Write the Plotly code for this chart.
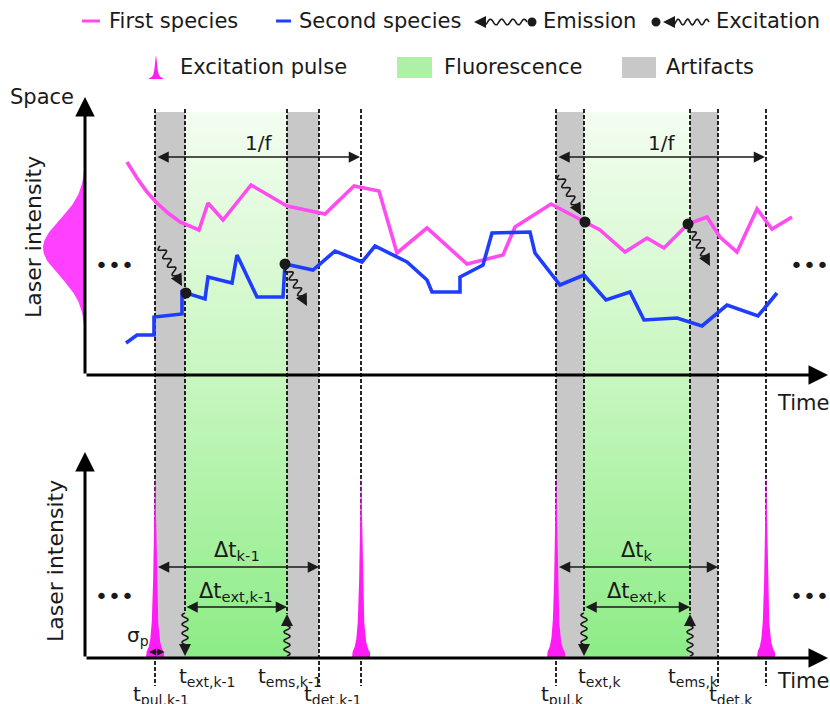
import numpy as np
import plotly.graph_objects as go

W, H = 830, 704
FONT = "DejaVu Sans"
INK = "#1a1a1a"
MAGENTA = "#ff4cf0"
PULSE = "#ff1cf5"
BLUE = "#1f3dff"
GREY = "rgb(200,200,200)"

# ---------------- data ----------------
# trajectories of the two species (time, space; arbitrary units)
first_t = [4.2, 5.2, 6.2, 7.2, 8.3, 9.5, 11.4, 12.3, 13.8, 16.6, 20.2, 24.0, 26.9, 29.4,
           31.2, 34.2, 38.2, 41.8, 43.0, 46.6, 50.0, 51.5, 54.0, 56.2, 57.9, 60.3, 62.2,
           63.5, 65.2, 67.2, 68.7, 70.7]
first_y = [21.3, 19.7, 18.3, 17.2, 16.2, 15.3, 14.5, 17.2, 15.5, 19.0, 16.9, 16.1, 18.9, 18.4,
           12.2, 14.7, 11.1, 12.0, 14.8, 17.1, 15.3, 14.5, 12.3, 13.7, 12.7, 15.1, 15.8,
           13.8, 12.3, 16.6, 14.6, 15.8]
second_t = [4.1, 5.2, 6.9, 6.9, 9.7, 9.7, 10.1, 12.0, 12.3, 14.7, 15.2, 17.2, 19.8, 20.0,
            22.8, 25.0, 27.7, 29.0, 32.2, 34.2, 34.7, 37.5, 37.5, 39.8, 40.7, 44.5, 45.0,
            47.5, 49.9, 52.1, 54.5, 55.9, 59.2, 61.7, 64.2, 67.3, 69.2]
second_y = [3.2, 4.0, 4.0, 5.8, 6.1, 8.5, 8.2, 7.6, 9.8, 9.2, 12.0, 7.8, 7.8, 11.1,
            10.5, 12.4, 11.3, 12.9, 11.3, 9.5, 8.3, 8.3, 9.8, 11.0, 14.2, 14.3, 12.2,
            9.0, 10.0, 7.5, 8.3, 5.5, 5.7, 4.9, 7.0, 5.9, 8.2]

# timing of the two illustrated periods
pulse_t = [7.0, 27.6, 47.1, 68.1]
ext_t = [10.0, 49.9]
ems_t = [20.2, 60.5]
det_t = [23.4, 63.3]
period_pulse = [0, 2]          # index into pulse_t of each period's pulse
period_next = [1, 3]           # following pulse (1/f)
period_k = ["k-1", "k"]

# excitation / emission events (time, space)
excitation_pts = [(10.1, 8.2), (50.0, 15.3)]
emission_pts = [(20.0, 11.1), (60.3, 15.1)]

# spatial laser profile and pulse shape parameters
beam_center, beam_sigma, beam_peak = 12.7, 2.8, 4.2
pulse_peak, pulse_hw, pulse_span = 1.0, 0.16, 0.9

# ---------------- coordinate helpers ----------------
T0_PX, PX_PER_T = 85, 10.0
Y0_PX, PX_PER_Y = 375, 10.0
I0_PX, PX_PER_I = 658, 185.0
SPLIT_PX = 420


def tx(t):
    return T0_PX + PX_PER_T * t


def ty(y):
    return Y0_PX - PX_PER_Y * y


def pp(px, py):
    return px / W, 1 - py / H


def ppath(points):
    return "M" + " L".join(f"{x / W:.5f},{1 - y / H:.5f}" for x, y in points)


shapes = []
annotations = []


def text(px, py, s, size=21, xanchor="center", yanchor="middle", angle=0):
    x, y = pp(px, py)
    annotations.append(dict(x=x, y=y, xref="paper", yref="paper", text=s, showarrow=False,
                            xanchor=xanchor, yanchor=yanchor, textangle=angle,
                            font=dict(family=FONT, size=size, color=INK)))


def head(tip, tail, width=1.5, size=1.6):
    x, y = pp(*tip)
    annotations.append(dict(x=x, y=y, xref="paper", yref="paper", axref="pixel", ayref="pixel",
                            ax=tail[0] - tip[0], ay=tail[1] - tip[1], text="", showarrow=True,
                            arrowhead=2, arrowsize=size, arrowwidth=width, arrowcolor=INK))


def wavy(p0, p1, amp=3.4, wavelength=9.5, straight=7.0, width=1.6, arrow=True):
    x0, y0 = p0
    x1, y1 = p1
    L = np.hypot(x1 - x0, y1 - y0)
    ux, uy = (x1 - x0) / L, (y1 - y0) / L
    nx, ny = -uy, ux
    Lw = L - straight
    n = max(1, round(Lw / wavelength))
    s = np.linspace(0, Lw, 90)
    off = amp * np.sin(2 * np.pi * n * s / Lw)
    pts = [(x0 + ux * a + nx * b, y0 + uy * a + ny * b) for a, b in zip(s, off)]
    pts.append((x1 - ux * 2, y1 - uy * 2))
    shapes.append(dict(type="path", xref="paper", yref="paper", path=ppath(pts),
                       line=dict(color=INK, width=width), layer="above"))
    if arrow:
        head((x1, y1), (x1 - ux * 7, y1 - uy * 7))


def dot(px, py, r=4.5):
    x0, y0 = pp(px - r, py + r)
    x1, y1 = pp(px + r, py - r)
    shapes.append(dict(type="circle", xref="paper", yref="paper", x0=x0, y0=y0, x1=x1, y1=y1,
                       fillcolor=INK, line=dict(width=0), layer="above"))


def hrule(x0, x1, py, color, width):
    a, b = pp(x0, py)
    c, _ = pp(x1, py)
    shapes.append(dict(type="line", xref="paper", yref="paper", x0=a, x1=c, y0=b, y1=b,
                       line=dict(color=color, width=width), layer="above"))


def rect(x0, y0, x1, y1, color, layer="below"):
    a, b = pp(x0, y0)
    c, d = pp(x1, y1)
    shapes.append(dict(type="rect", xref="paper", yref="paper", x0=a, y0=b, x1=c, y1=d,
                       fillcolor=color, line=dict(width=0), layer=layer))


# ---------------- shaded windows ----------------
BAND_TOP, BAND_BOT = 112, I0_PX
green_stops = [(BAND_TOP, (243, 253, 241)), (Y0_PX, (200, 247, 192)), (BAND_BOT, (140, 236, 134))]


def green_at(py):
    for (p0, c0), (p1, c1) in zip(green_stops[:-1], green_stops[1:]):
        if p0 <= py <= p1:
            f = (py - p0) / (p1 - p0)
            return "rgb(%d,%d,%d)" % tuple(round(a + (b - a) * f) for a, b in zip(c0, c1))
    return "rgb(%d,%d,%d)" % green_stops[-1][1]


for k in range(2):
    p = pulse_t[period_pulse[k]]
    rect(tx(p), BAND_TOP, tx(ext_t[k]), BAND_BOT, GREY)
    rect(tx(ems_t[k]), BAND_TOP, tx(det_t[k]), BAND_BOT, GREY)
    for e in np.arange(BAND_TOP, BAND_BOT, 6):
        rect(tx(ext_t[k]), e, tx(ems_t[k]), min(e + 6.5, BAND_BOT), green_at(e + 3))


# dashed timing lines
def vdash(t, py_end):
    x, _ = pp(tx(t), 0)
    shapes.append(dict(type="line", xref="paper", yref="paper", x0=x, x1=x,
                       y0=1 - (BAND_TOP - 3) / H, y1=1 - py_end / H,
                       line=dict(color="#000000", width=1.7, dash="4px,2px"), layer="below"))


for t in pulse_t:
    vdash(t, 686)
for t in det_t:
    vdash(t, 686)
for t in ext_t:
    vdash(t, 612)
for t in ems_t:
    vdash(t, 614)

fig = go.Figure()

# spatial laser profile on the left of the space axis
ys = np.linspace(beam_center - 2.8 * beam_sigma, beam_center + 2.8 * beam_sigma, 120)
xs = -beam_peak * np.exp(-0.5 * ((ys - beam_center) / beam_sigma) ** 2)
fig.add_trace(go.Scatter(x=np.r_[0, xs, 0], y=np.r_[ys[0], ys, ys[-1]], fill="toself",
                         fillcolor="#ff40ff", line=dict(width=0), mode="lines",
                         hoverinfo="skip", xaxis="x", yaxis="y"))

# species trajectories
fig.add_trace(go.Scatter(x=first_t, y=first_y, mode="lines", name="First species",
                         line=dict(color=MAGENTA, width=3.6), xaxis="x", yaxis="y"))
fig.add_trace(go.Scatter(x=second_t, y=second_y, mode="lines", name="Second species",
                         line=dict(color=BLUE, width=3.6), xaxis="x", yaxis="y"))
ev = excitation_pts + emission_pts
fig.add_trace(go.Scatter(x=[e[0] for e in ev], y=[e[1] for e in ev], mode="markers",
                         marker=dict(color=INK, size=11), xaxis="x", yaxis="y"))

# excitation pulses
for p in pulse_t:
    dt = np.linspace(-pulse_span, pulse_span, 161)
    v = pulse_peak / (1 + (dt / pulse_hw) ** 2)
    fig.add_trace(go.Scatter(x=np.r_[p - pulse_span, p + dt, p + pulse_span],
                             y=np.r_[0, v, 0], fill="toself", fillcolor=PULSE,
                             line=dict(width=0), mode="lines", hoverinfo="skip",
                             xaxis="x", yaxis="y2"))

# wavy arrows at excitation / emission events
for t, y in excitation_pts:
    px, py = tx(t), ty(y)
    wavy((px - 26, py - 47), (px - 4, py - 7))
for t, y in emission_pts:
    px, py = tx(t), ty(y)
    wavy((px + 2, py + 4), (px + 22, py + 42))

for k in range(2):
    wavy((tx(ext_t[k]), 613), (tx(ext_t[k]), I0_PX - 2), amp=3.0, wavelength=10)
    wavy((tx(ems_t[k]), I0_PX - 2), (tx(ems_t[k]), 614), amp=3.0, wavelength=10)


# axes drawn as arrows
def axis_arrow(x0, y0, x1, y1, yref):
    annotations.append(dict(x=x1, y=y1, ax=x0, ay=y0, xref="x", yref=yref, axref="x",
                            ayref=yref, text="", showarrow=True, arrowhead=2, arrowsize=1.3,
                            arrowwidth=3, arrowcolor="#000000"))


xmax = (828 - T0_PX) / PX_PER_T
axis_arrow(0, 0, xmax, 0, "y")
axis_arrow(0, 0, 0, (Y0_PX - 97) / PX_PER_Y, "y")
axis_arrow(0, 0, xmax, 0, "y2")
axis_arrow(0, 0, 0, (I0_PX - 452) / PX_PER_I, "y2")


# double arrows for intervals
def span_arrow(t0, t1, y, yref, width=1.5, size=1.5):
    annotations.append(dict(x=t1, y=y, ax=t0, ay=y, xref="x", yref=yref, axref="x",
                            ayref=yref, text="", showarrow=True, arrowhead=2,
                            startarrowhead=2, arrowside="end+start", arrowsize=size,
                            startarrowsize=size, arrowwidth=width, arrowcolor=INK))


for k in range(2):
    p0 = pulse_t[period_pulse[k]]
    p1 = pulse_t[period_next[k]]
    span_arrow(p0 + 0.1, p1 - 0.1, (Y0_PX - 157) / PX_PER_Y, "y")
    text((tx(p0) + tx(p1)) / 2, 143, "1/f", size=20)
    span_arrow(p0 + 0.15, det_t[k], (I0_PX - 567) / PX_PER_I, "y2")
    span_arrow(ext_t[k], ems_t[k], (I0_PX - 607) / PX_PER_I, "y2")
    kk = period_k[k]
    text((tx(p0) + tx(det_t[k])) / 2, 551, f"Δt<sub>{kk}</sub>", size=21)
    text((tx(ext_t[k]) + tx(ems_t[k])) / 2, 592, f"Δt<sub>ext,{kk}</sub>", size=21)
    text(tx(ext_t[k]) - 8, 677, f"t<sub>ext,{kk}</sub>", size=20, xanchor="left")
    text(tx(ems_t[k]) + 3, 677, f"t<sub>ems,{kk}</sub>", size=20)
    text(tx(p0) + 6, 695, f"t<sub>pul,{kk}</sub>", size=20)
    text(tx(det_t[k]) + 13, 695, f"t<sub>det,{kk}</sub>", size=20)

# pulse width marker
p0 = pulse_t[0]
annotations.append(dict(x=p0 + 0.95, y=(I0_PX - 652) / PX_PER_I, ax=p0 - 0.75,
                        ay=(I0_PX - 652) / PX_PER_I, xref="x", yref="y2", axref="x", ayref="y2",
                        text="", showarrow=True, arrowhead=2, startarrowhead=2,
                        arrowside="end+start", arrowsize=1.2, startarrowsize=1.2,
                        arrowwidth=1.2, arrowcolor=INK))
text(tx(p0) - 17, 636, "σ<sub>p</sub>", size=20)

# axis titles and continuation dots
text(42, 97, "Space", size=21)
text(33, 237, "Laser intensity", size=22, angle=-90)
text(55, 561, "Laser intensity", size=22, angle=-90)
text(803, 403, "Time", size=21)
text(803, 681, "Time", size=21)
for px, py in [(114, 265), (809, 265), (114, 596), (809, 596)]:
    text(px, py, "•••", size=22)

# ---------------- legend ----------------
R1, R2 = 21, 67
hrule(82, 100, R1, MAGENTA, 3)
text(107, R1, "First species", xanchor="left")
hrule(276, 291, R1, BLUE, 3)
text(297, R1, "Second species", xanchor="left")
dot(532, R1 + 1)
wavy((527, R1 + 1), (474, R1 + 1), amp=2.8, wavelength=10, straight=8)
text(541, R1, "Emission", xanchor="left")
dot(656, R1 + 1)
wavy((709, R1 + 1), (663, R1 + 1), amp=2.8, wavelength=10, straight=8)
text(714, R1, "Excitation", xanchor="left")

sp = np.linspace(-7, 7, 61)
spike = [(156 + a, 79 - 23 / (1 + (a / 1.4) ** 2)) for a in sp]
shapes.append(dict(type="path", xref="paper", yref="paper",
                   path=ppath([(149, 79)] + spike + [(163, 79)]) + " Z",
                   fillcolor=PULSE, line=dict(width=0), layer="above"))
text(178, R2, "Excitation pulse", xanchor="left")
rect(397, 57, 432, 78, "#aef0a6", layer="above")
text(442, R2, "Fluorescence", xanchor="left")
rect(622, 57, 656, 78, GREY, layer="above")
text(664, R2, "Artifacts", xanchor="left")

split = 1 - SPLIT_PX / H
hidden = dict(visible=False, showgrid=False, zeroline=False, fixedrange=True)
fig.update_layout(
    width=W, height=H, margin=dict(l=0, r=0, t=0, b=0),
    paper_bgcolor="white", plot_bgcolor="rgba(0,0,0,0)", showlegend=False,
    xaxis=dict(range=[-T0_PX / PX_PER_T, (W - T0_PX) / PX_PER_T], domain=[0, 1], **hidden),
    yaxis=dict(range=[(Y0_PX - SPLIT_PX) / PX_PER_Y, Y0_PX / PX_PER_Y], domain=[split, 1],
               anchor="x", **hidden),
    yaxis2=dict(range=[(I0_PX - H) / PX_PER_I, (I0_PX - SPLIT_PX) / PX_PER_I],
                domain=[0, split], anchor="x", **hidden),
    shapes=shapes, annotations=annotations,
)

fig.write_html("out.html")
